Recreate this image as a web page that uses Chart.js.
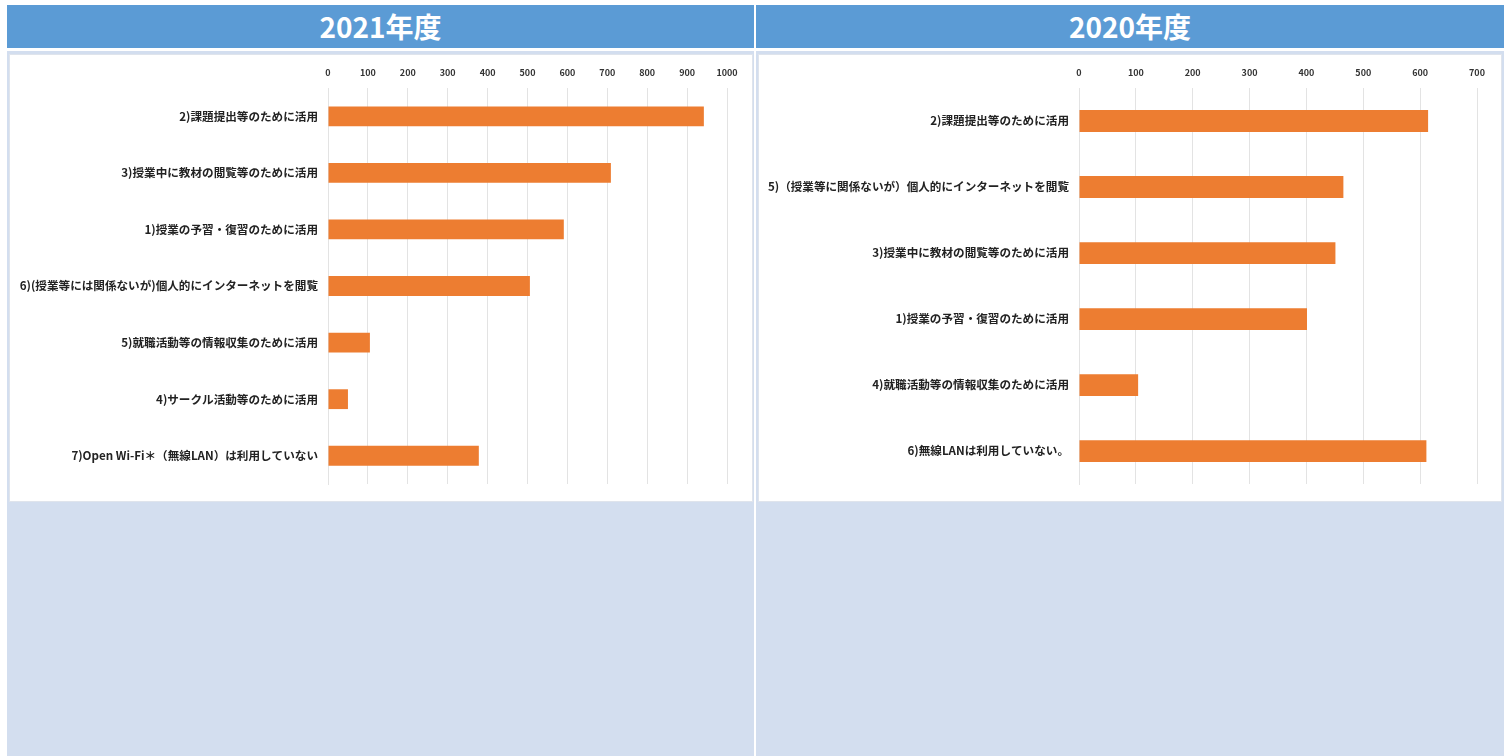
<!DOCTYPE html>
<html lang="ja">
<head>
<meta charset="utf-8">
<script src="https://cdn.jsdelivr.net/npm/chart.js@4.4.1/dist/chart.umd.min.js"></script>
<style>
  html,body{margin:0;padding:0;background:#ffffff;width:1511px;height:756px;overflow:hidden;
    font-family:"Noto Sans CJK JP","Noto Sans",sans-serif;}
  .hdr{position:absolute;top:5px;height:43px;background:#5B9BD5;color:#fff;font-weight:bold;
    font-size:28px;line-height:43px;text-align:center;}
  .cell{position:absolute;top:51px;height:705px;background:#D3DEEF;}
  .box{position:absolute;top:55px;width:742px;height:446px;background:#fff;
    box-shadow:0 0 0 1px #dfe4ec;}
  canvas{display:block;}
</style>
</head>
<body>
<div class="hdr" style="left:7px;width:747px;">2021年度</div>
<div class="hdr" style="left:756px;width:748px;">2020年度</div>
<div class="cell" style="left:7px;width:747px;"></div>
<div class="cell" style="left:756px;width:748px;"></div>
<div class="box" style="left:10px;"><canvas id="c1" width="742" height="446"></canvas></div>
<div class="box" style="left:759px;"><canvas id="c2" width="742" height="446"></canvas></div>
<script>
const labels2021 = [
  "2)課題提出等のために活用",
  "3)授業中に教材の閲覧等のために活用",
  "1)授業の予習・復習のために活用",
  "6)(授業等には関係ないが)個人的にインターネットを閲覧",
  "5)就職活動等の情報収集のために活用",
  "4)サークル活動等のために活用",
  "7)Open Wi-Fi＊（無線LAN）は利用していない"
];
const values2021 = [942, 709, 591, 506, 105, 50, 378];
const max2021 = 1000;

const labels2020 = [
  "2)課題提出等のために活用",
  "5)（授業等に関係ないが）個人的にインターネットを閲覧",
  "3)授業中に教材の閲覧等のために活用",
  "1)授業の予習・復習のために活用",
  "4)就職活動等の情報収集のために活用",
  "6)無線LANは利用していない。"
];
const values2020 = [614, 465, 451, 401, 104, 611];
const max2020 = 700;

const tickStep = 100;
const barColor = "#ED7D31";

function makeChart(id, labels, values, max, barPct, rightPad, plotLeft) {
  return new Chart(document.getElementById(id), {
    type: "bar",
    data: {
      labels: labels,
      datasets: [{
        data: values,
        backgroundColor: barColor,
        borderWidth: 0,
        barPercentage: barPct,
        categoryPercentage: 1
      }]
    },
    options: {
      indexAxis: "y",
      responsive: false,
      animation: false,
      devicePixelRatio: 1,
      layout: { padding: { left: 0, right: rightPad, top: 0, bottom: 13 } },
      plugins: { legend: { display: false }, tooltip: { enabled: false } },
      scales: {
        x: {
          position: "top",
          min: 0, max: max,
          ticks: { stepSize: tickStep, padding: 10, color: "#333",
                   callback: v => String(v),
                   font: { family: "'Noto Sans CJK JP', sans-serif", size: 9, weight: "bold" } },
          grid: { color: "#e3e3e3", drawTicks: false },
          border: { display: false },
          afterFit: s => { s.height = 33; }
        },
        y: {
          ticks: { padding: 10, color: "#222", autoSkip: false,
                   font: { family: "'Noto Sans CJK JP', sans-serif", size: 11.6, weight: "bold" } },
          grid: { display: false, drawTicks: false },
          border: { display: true, color: "#e3e3e3" },
          afterFit: s => { s.width = plotLeft; }
        }
      }
    }
  });
}
makeChart("c1", labels2021, values2021, max2021, 0.35, 25, 318);
makeChart("c2", labels2020, values2020, max2020, 0.33, 24, 320);
</script>
</body>
</html>
